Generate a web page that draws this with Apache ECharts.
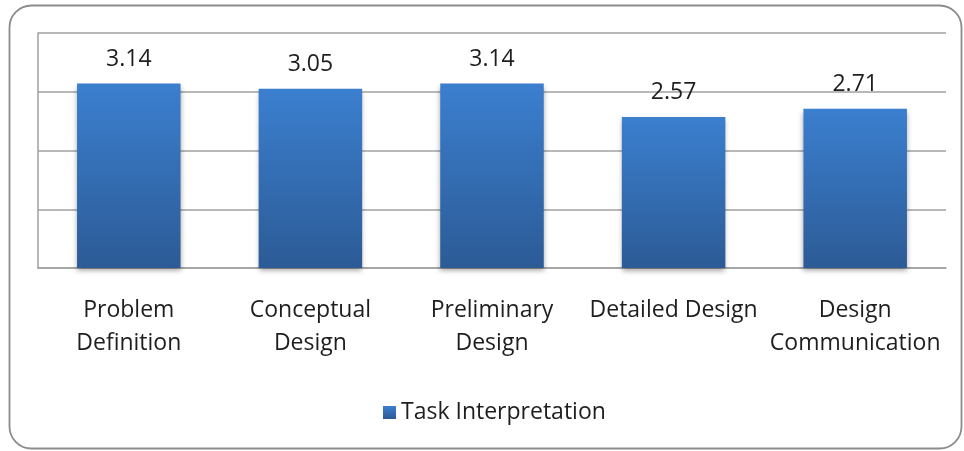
<!DOCTYPE html>
<html><head><meta charset="utf-8">
<script src="https://cdn.jsdelivr.net/npm/echarts@6/dist/echarts.min.js"></script>
<style>html,body{margin:0;padding:0;background:#fff}#c{width:964px;height:451px}</style>
</head><body><div id="c"></div>
<script>
const categories = ["Problem\nDefinition", "Conceptual\nDesign", "Preliminary\nDesign", "Detailed Design", "Design\nCommunication"];
const seriesName = "Task Interpretation";
const values = [3.14, 3.05, 3.14, 2.57, 2.71];
const yTicks = [0, 1, 2, 3, 4];

const FONT = "Open Sans";
const chart = echarts.init(document.getElementById('c'));
chart.setOption({
  animation: false,
  graphic: [{
    type: 'rect', shape: {x: 9.5, y: 5.5, width: 952, height: 443, r: 22},
    style: {fill: 'none', stroke: '#8c8c8c', lineWidth: 1.8}, z: -1
  }],
  grid: {left: 38, right: 18, top: 33, bottom: 183},
  legend: {
    data: [seriesName], bottom: 22, left: 378,
    icon: 'rect', itemWidth: 13, itemHeight: 13, itemGap: 8,
    textStyle: {fontFamily: FONT, fontSize: 23, color: '#1e1e1e'}
  },
  xAxis: {
    type: 'category', data: categories,
    axisLine: {lineStyle: {color: '#a0a0a0', width: 1.5}},
    axisTick: {show: false},
    axisLabel: {fontFamily: FONT, fontSize: 23, color: '#1e1e1e', lineHeight: 33, margin: 26, interval: 0}
  },
  yAxis: {
    type: 'value', min: yTicks[0], max: yTicks[yTicks.length - 1], interval: 1,
    axisLine: {show: true, lineStyle: {color: '#a0a0a0', width: 1.5}},
    axisTick: {show: false},
    axisLabel: {show: false},
    splitLine: {lineStyle: {color: '#a0a0a0', width: 1.5}}
  },
  series: [{
    name: seriesName, type: 'bar', data: values, barWidth: '57%',
    itemStyle: {
      color: new echarts.graphic.LinearGradient(0, 0, 0, 1, [
        {offset: 0, color: '#3b7fcf'}, {offset: 1, color: '#2c5b96'}
      ]),
      shadowColor: 'rgba(0,0,0,0.35)', shadowBlur: 5, shadowOffsetY: 3
    },
    label: {show: true, position: 'top', distance: 13, fontFamily: FONT, fontSize: 23, color: '#1e1e1e',
      formatter: p => p.value.toFixed(2)}
  }]
});
</script></body></html>
